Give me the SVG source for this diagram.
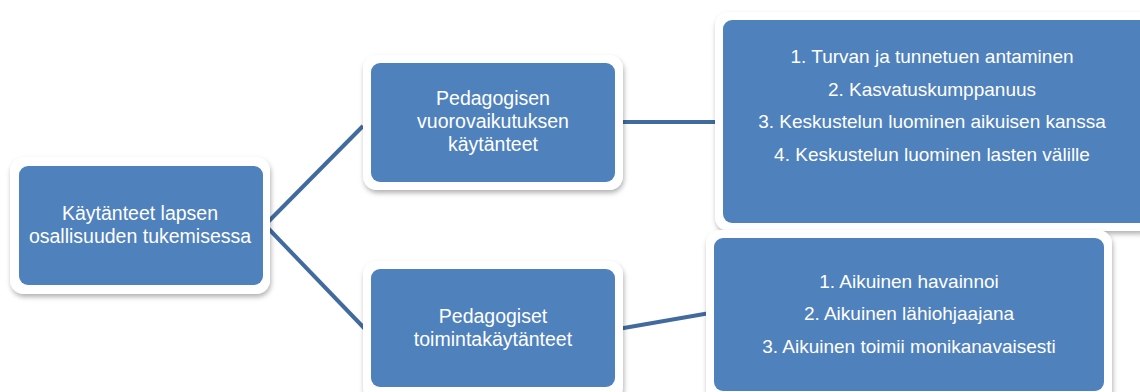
<svg xmlns="http://www.w3.org/2000/svg" width="1140" height="392" viewBox="0 0 1140 392">
<defs>
<filter id="sh" x="-10%" y="-10%" width="125%" height="130%">
<feDropShadow dx="1" dy="3" stdDeviation="2.5" flood-color="#000" flood-opacity="0.3"/>
</filter>
</defs>
<style>
.outer{fill:#fff;filter:url(#sh)}
.inner{fill:#4f81bd}
.t{font-family:"Liberation Sans",Arial,sans-serif;fill:#fff;text-anchor:middle;font-size:19.5px}
.l{font-family:"Liberation Sans",Arial,sans-serif;fill:#fff;text-anchor:middle;font-size:19px}
.conn{stroke:#416b9e;stroke-width:4;fill:none}
</style>
<rect width="1140" height="392" fill="#fff"/>
<g id="connectors">
<path class="conn" d="M265,225 L363,126"/>
<path class="conn" d="M265,225 L366,330"/>
<path class="conn" d="M619,122 L718,122"/>
<path class="conn" d="M618,329 L710,313"/>
</g>
<g id="n1">
<rect class="outer" x="10" y="157" width="260" height="137" rx="14"/>
<rect class="inner" x="19" y="166" width="244" height="119" rx="9"/>
<text class="t" x="140" y="220">Käytänteet lapsen</text>
<text class="t" x="140" y="243">osallisuuden tukemisessa</text>
</g>
<g id="n2">
<rect class="outer" x="363" y="55" width="260" height="135" rx="14"/>
<rect class="inner" x="371" y="63" width="244" height="119" rx="9"/>
<text class="t" x="493" y="105">Pedagogisen</text>
<text class="t" x="493" y="128">vuorovaikutuksen</text>
<text class="t" x="493" y="151">käytänteet</text>
</g>
<g id="n3">
<rect class="outer" x="363" y="261" width="260" height="140" rx="14"/>
<rect class="inner" x="371" y="269" width="244" height="118" rx="9"/>
<text class="t" x="493" y="323">Pedagogiset</text>
<text class="t" x="493" y="346">toimintakäytänteet</text>
</g>
<g id="n4">
<rect class="outer" x="715" y="12" width="440" height="219" rx="14"/>
<rect class="inner" x="723" y="20" width="425" height="203" rx="9"/>
<text class="l" x="932" y="63">1. Turvan ja tunnetuen antaminen</text>
<text class="l" x="932" y="96">2. Kasvatuskumppanuus</text>
<text class="l" x="932" y="128">3. Keskustelun luominen aikuisen kanssa</text>
<text class="l" x="932" y="161">4. Keskustelun luominen lasten välille</text>
</g>
<g id="n5">
<rect class="outer" x="706" y="230" width="406" height="175" rx="14"/>
<rect class="inner" x="714" y="238" width="390" height="153" rx="9"/>
<text class="l" x="909" y="288">1. Aikuinen havainnoi</text>
<text class="l" x="909" y="320">2. Aikuinen lähiohjaajana</text>
<text class="l" x="909" y="353">3. Aikuinen toimii monikanavaisesti</text>
</g>
</svg>
